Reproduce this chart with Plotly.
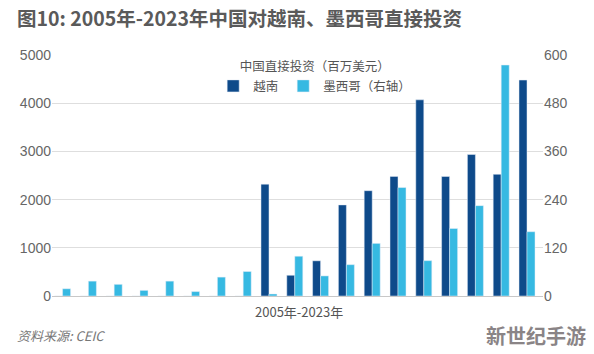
import plotly.graph_objects as go

years = [str(y) for y in range(2005, 2024)]
vietnam = [0, 0, 0, 0, 0, 0, 0, 0, 2320, 430, 730, 1890, 2185, 2480, 4070, 2480, 2935, 2525, 4480]
mexico = [18, 37, 29, 14, 37, 11, 47, 61, 5, 99, 50, 78, 131, 270, 88, 168, 225, 575, 160]

left_ticks = [0, 1000, 2000, 3000, 4000, 5000]
right_ticks = [0, 120, 240, 360, 480, 600]

FONT = "Noto Sans CJK SC"
DARK = "#0e4a8a"
LIGHT = "#36b9e2"

L, R, T, B = 52, 51, 55, 58
W, H = 594, 354
PW = W - L - R
PH = H - T - B


def px(x):
    return (x - L) / PW


def py(y):
    return (H - B - y) / PH


fig = go.Figure()
fig.add_trace(go.Bar(x=years, y=vietnam, name="越南", marker_color=DARK,
                     offset=-0.31, width=0.31, yaxis="y"))
fig.add_trace(go.Bar(x=years, y=mexico, name="墨西哥（右轴）", marker_color=LIGHT,
                     offset=0.0, width=0.31, yaxis="y2"))

fig.update_layout(
    width=W, height=H,
    margin=dict(l=L, r=R, t=T, b=B, pad=0),
    paper_bgcolor="white", plot_bgcolor="white",
    font=dict(family=FONT, color="#666666", size=14),
    showlegend=True,
    legend=dict(
        orientation="h", x=0.535, xanchor="center", y=1.0, yanchor="top",
        title=dict(text="中国直接投资（百万美元）", side="top center",
                   font=dict(size=12.5, color="#555555", family=FONT)),
        font=dict(size=12.5, color="#555555", family=FONT),
        bgcolor="rgba(0,0,0,0)",
        itemwidth=30,
    ),
    xaxis=dict(type="category", range=[-0.41, 18.62], showticklabels=False,
               showgrid=False, showline=True, linecolor="#c8c8c8", linewidth=1,
               ticks="", zeroline=False),
    yaxis=dict(range=[0, 5000], tickvals=left_ticks, showgrid=True,
               gridcolor="#dedede", gridwidth=1, zeroline=False, ticks="",
               tickfont=dict(size=14, color="#666666", family="Liberation Sans")),
    yaxis2=dict(range=[0, 600], tickvals=right_ticks, overlaying="y", side="right",
                showgrid=False, zeroline=False, ticks="",
                tickfont=dict(size=14, color="#666666", family="Liberation Sans")),
    title=dict(text="<b>图10: 2005年-2023年中国对越南、墨西哥直接投资</b>",
               x=17 / W, xref="container", xanchor="left",
               y=1 - 19 / H, yref="container", yanchor="middle",
               font=dict(size=19.5, color="#5a5a5a", family=FONT)),
    annotations=[
        dict(text="2005年-2023年", x=px(299), y=py(311), xref="paper", yref="paper",
             xanchor="center", yanchor="middle", showarrow=False,
             font=dict(size=13, color="#555555", family=FONT)),
        dict(text="<i>资料来源: CEIC</i>", x=px(15), y=py(335), xref="paper", yref="paper",
             xanchor="left", yanchor="middle", showarrow=False,
             font=dict(size=13, color="#777777", family=FONT)),
        dict(text="<b>新世纪手游</b>", x=px(588), y=py(335), xref="paper", yref="paper",
             xanchor="right", yanchor="middle", showarrow=False,
             font=dict(size=20, color="#8a8486", family=FONT)),
    ],
)

fig.write_html("out.html")
